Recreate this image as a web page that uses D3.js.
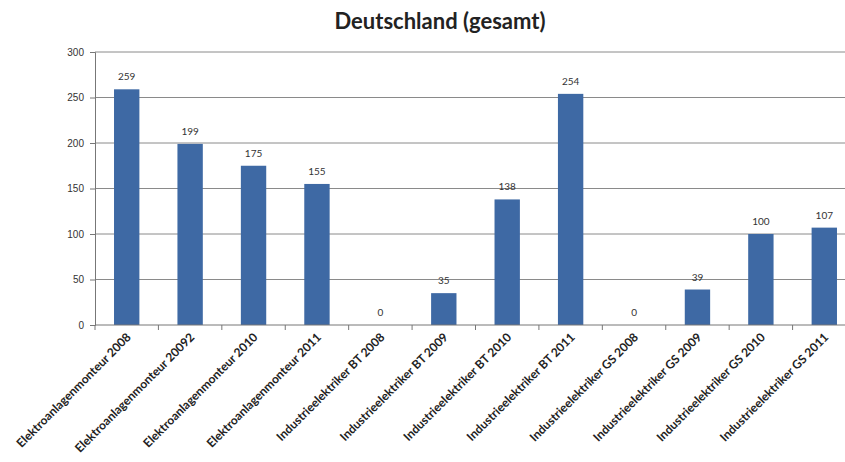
<!DOCTYPE html>
<html>
<head>
<meta charset="utf-8">
<script src="https://cdn.jsdelivr.net/npm/d3@7"></script>
<style>
  body { margin: 0; background: #fff; }
  svg { font-family: Lato, "Open Sans", sans-serif; }
</style>
</head>
<body>
<div id="graph"></div>
<script>
var categories = ["Elektroanlagenmonteur 2008", "Elektroanlagenmonteur 20092", "Elektroanlagenmonteur 2010",
                  "Elektroanlagenmonteur 2011", "Industrieelektriker BT 2008", "Industrieelektriker BT 2009",
                  "Industrieelektriker BT 2010", "Industrieelektriker BT 2011", "Industrieelektriker GS 2008",
                  "Industrieelektriker GS 2009", "Industrieelektriker GS 2010", "Industrieelektriker GS 2011"];
var values = [259, 199, 175, 155, 0, 35, 138, 254, 0, 39, 100, 107];
var yTicks = [0, 50, 100, 150, 200, 250, 300];
var title = "Deutschland (gesamt)";

var margin = {top: 52, right: 0, bottom: 137, left: 95};
var w = 761, h = 273;

var svg = d3.select("#graph")
            .append("svg")
            .attr("width", 845)
            .attr("height", 462);

svg.append("text")
    .attr("x", 440)
    .attr("y", 29)
    .attr("text-anchor", "middle")
    .style("font-size", "22px")
    .style("font-weight", "bold")
    .style("fill", "#222")
    .text(title);

var g = svg.append("g")
    .attr("transform", "translate(" + margin.left + "," + margin.top + ")");

var x = d3.scaleBand()
            .range([0, w])
            .domain(categories)
            .paddingInner(0.6)
            .paddingOuter(0.3);

var y = d3.scaleLinear()
            .domain([0, 300])
            .range([h, 0]);

// gridlines
g.selectAll("line.grid")
    .data(yTicks.filter(function(d) { return d > 0; }))
    .enter()
    .append("line")
    .attr("class", "grid")
    .attr("x1", 0)
    .attr("x2", w)
    .attr("y1", function(d) { return y(d); })
    .attr("y2", function(d) { return y(d); })
    .attr("stroke", "#8a8a8a")
    .attr("stroke-width", 1);

// y axis
var yAxis = g.append("g")
    .call(d3.axisLeft(y).tickValues(yTicks).tickSize(5).tickPadding(6));
yAxis.select(".domain").attr("stroke", "#777");
yAxis.selectAll(".tick line").attr("stroke", "#777");
yAxis.selectAll("text")
    .style("font-size", "10px")
    .style("fill", "#333");

// bars
g.selectAll("rect.bar")
    .data(values)
    .enter()
    .append("rect")
    .attr("class", "bar")
    .attr("x", function(d, i) { return x(categories[i]); })
    .attr("y", function(d) { return y(d); })
    .attr("width", x.bandwidth())
    .attr("height", function(d) { return h - y(d); })
    .attr("fill", "#3e69a4");

// value labels
g.selectAll("text.val")
    .data(values)
    .enter()
    .append("text")
    .attr("class", "val")
    .attr("x", function(d, i) { return x(categories[i]) + x.bandwidth() / 2; })
    .attr("y", function(d) { return y(d) - 9; })
    .attr("text-anchor", "middle")
    .style("font-size", "10px")
    .style("fill", "#333")
    .text(function(d) { return d; });

// x axis with ticks at category boundaries
var xAxis = g.append("g")
    .attr("transform", "translate(0," + h + ")");
xAxis.append("line")
    .attr("x1", 0).attr("x2", w)
    .attr("stroke", "#777");
xAxis.selectAll("line.tk")
    .data(d3.range(categories.length + 1))
    .enter()
    .append("line")
    .attr("class", "tk")
    .attr("x1", function(i) { return i * x.step(); })
    .attr("x2", function(i) { return i * x.step(); })
    .attr("y1", 0)
    .attr("y2", 5)
    .attr("stroke", "#777");

xAxis.selectAll("text")
    .data(categories)
    .enter()
    .append("text")
    .attr("transform", function(d) {
        return "translate(" + (x(d) + x.bandwidth() / 2 + 5) + ",13) rotate(-45)";
    })
    .attr("text-anchor", "end")
    .style("font-size", "12px")
    .style("font-weight", "bold")
    .style("fill", "#222")
    .text(function(d) { return d; });
</script>
</body>
</html>
